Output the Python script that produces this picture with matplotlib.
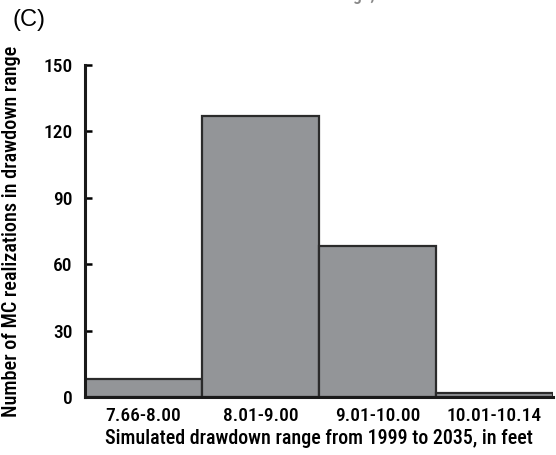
import matplotlib
matplotlib.use("Agg")
import matplotlib.pyplot as plt

categories = ["7.66-8.00", "8.01-9.00", "9.01-10.00", "10.01-10.14"]
counts = [8, 127, 68, 2]
yticks = [0, 30, 60, 90, 120, 150]

plt.rcParams['font.family'] = ['Roboto Condensed', 'DejaVu Sans']
plt.rcParams['font.weight'] = 'medium'
plt.rcParams['axes.labelweight'] = 'medium'

fig = plt.figure(figsize=(5.56, 4.55), dpi=100)
ax = fig.add_axes([85/556, 58/455, 468/556, 332/455])

x = list(range(len(categories)))
ax.bar(x, counts, width=1.0, color='#939598', edgecolor='#2b2b2b', linewidth=1.6)
ax.set_xlim(-0.5, len(categories) - 0.5)
ax.set_ylim(0, 150)
ax.set_yticks(yticks)
ax.set_xticks(x)
ax.set_xticklabels(categories)
for s in ['top', 'right']:
    ax.spines[s].set_visible(False)
for s in ['left', 'bottom']:
    ax.spines[s].set_linewidth(2.2)
    ax.spines[s].set_color('#1a1a1a')
ax.tick_params(axis='y', direction='in', length=5, width=1.8, labelsize=14, pad=9)
ax.tick_params(axis='x', length=0, labelsize=14, pad=7)
ax.set_xlabel("Simulated drawdown range from 1999 to 2035, in feet", fontsize=14.4, labelpad=3)
ax.set_ylabel("Number of MC realizations in drawdown range", fontsize=14.6, labelpad=9)
ax.yaxis.set_label_coords(-0.137, 0.5)

fig.text(12/556, 1 - 20/455, "(C)", fontsize=17, va='center', ha='left', family=['Liberation Sans', 'DejaVu Sans'], weight='normal')
fig.text(300/556, 1 - 4/455, "Simulated drawdown range, in feet", fontsize=13, va='bottom', ha='center', color='#888888')

fig.savefig("out.png", dpi=100)
